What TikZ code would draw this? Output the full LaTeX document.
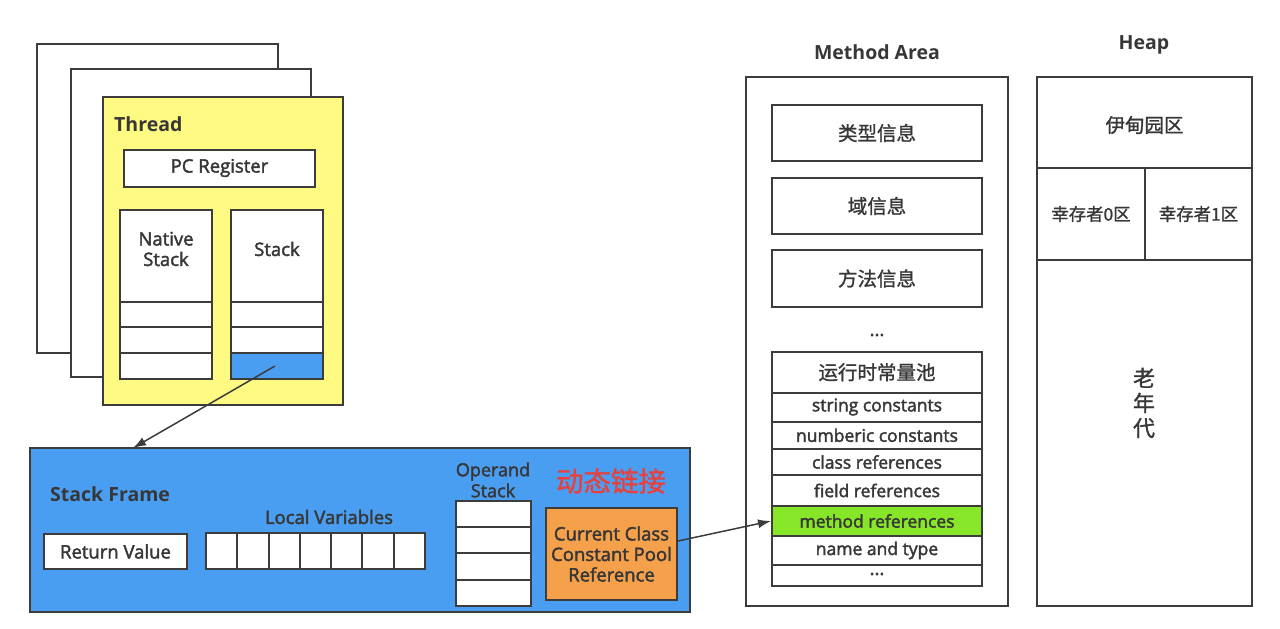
\documentclass[tikz,border=0pt]{standalone}
\usepackage{fontspec}
\setmainfont{Open Sans}
\newfontfamily\semi{Open Sans}[FakeBold=2.2]
\newfontfamily\cjk{Noto Sans CJK SC}[FakeBold=1.2]
\usetikzlibrary{arrows.meta}
\definecolor{linec}{RGB}{60,60,60}
\definecolor{txt}{RGB}{55,55,55}
\definecolor{yel}{RGB}{255,250,130}
\definecolor{blu}{RGB}{74,158,242}
\definecolor{org}{RGB}{245,160,74}
\definecolor{grn}{RGB}{135,230,40}
\definecolor{redt}{RGB}{232,64,58}
\tikzset{
  bx/.style={draw=linec, line width=2pt, fill=white, inner sep=0pt, text=txt},
  lab/.style={text=txt, inner sep=0pt, font=\fontsize{18.5}{20.5}\selectfont\semi, align=center},
  rowt/.style={text=txt, inner sep=0pt, font=\fontsize{17.5}{20}\selectfont\semi},
  ttl/.style={text=txt, inner sep=0pt, font=\fontsize{19.5}{22}\selectfont\bfseries},
  cn/.style={text=txt, inner sep=0pt, font=\fontsize{19.5}{22}\selectfont\cjk},
  cell/.style={bx, minimum width=210pt},
  arr/.style={draw=linec, line width=1.5pt, -{Latex[length=13pt,width=9pt]}}
}
\begin{document}
\begin{tikzpicture}[x=1pt,y=-1pt]
\useasboundingbox (0,0) rectangle (1280,629);
% thread pages
\node[bx, minimum width=241pt, minimum height=309pt] (p1) at (157.5,198.5) {};
\node[bx, minimum width=240pt, minimum height=308pt] (p2) at (191,223) {};
\node[bx, fill=yel, minimum width=240pt, minimum height=308pt] (th) at (223,251) {};
\node[ttl, anchor=west] (thl) at (114,124) {Thread};
\node[bx, minimum width=191pt, minimum height=37pt, lab] (pc) at (219.5,168) {PC Register};
% native stack
\node[bx, minimum width=92pt, minimum height=92pt] (ns) at (166,256) {};
\node[lab] (nsl) at (166,249) {Native\\Stack};
\node[bx, minimum width=92pt, minimum height=25pt] (n1) at (166,314.5) {};
\node[bx, minimum width=92pt, minimum height=26pt] (n2) at (166,340) {};
\node[bx, minimum width=92pt, minimum height=26pt] (n3) at (166,366) {};
% stack
\node[bx, minimum width=92pt, minimum height=92pt] (st) at (277,256) {};
\node[lab] (stl) at (277,249) {Stack};
\node[bx, minimum width=92pt, minimum height=25pt] (s1) at (277,314.5) {};
\node[bx, minimum width=92pt, minimum height=26pt] (s2) at (277,340) {};
\node[bx, fill=blu, minimum width=92pt, minimum height=26pt] (s3) at (277,366) {};
% stack frame
\node[bx, fill=blu, minimum width=660pt, minimum height=164pt] (sf) at (360,530) {};
\coordinate (sfin) at (133,448);
\node[ttl, anchor=west] (sfl) at (50,494) {Stack Frame};
\node[bx, lab, minimum width=143pt, minimum height=35pt] (rv) at (115.5,551.5) {Return Value};
\node[lab] (lvl) at (329,517) {Local Variables};
\foreach \i in {0,...,6} {
  \node[bx, minimum width=31.3pt, minimum height=36pt] (lv\i) at ({206+31.29*(\i+0.5)},551) {};
}
\node[lab, font=\fontsize{18}{21}\selectfont\semi] (osl) at (493,480) {Operand\\Stack};
\node[bx, minimum width=75pt, minimum height=26.25pt] (o1) at (493.5,514.1) {};
\node[bx, minimum width=75pt, minimum height=26.25pt] (o2) at (493.5,540.4) {};
\node[bx, minimum width=75pt, minimum height=26.25pt] (o3) at (493.5,566.6) {};
\node[bx, minimum width=75pt, minimum height=26.25pt] (o4) at (493.5,592.9) {};
\node[text=redt, inner sep=0pt, font=\fontsize{27.5}{30}\selectfont\cjk] (dl) at (611,481) {动态链接};
\node[bx, fill=org, lab, minimum width=131pt, minimum height=92pt] (or) at (611.5,554) {Current Class\\Constant Pool\\Reference};
% method area
\node[ttl] (mal) at (877,52) {Method Area};
\node[bx, minimum width=262pt, minimum height=529pt] (ma) at (877,341.5) {};
\node[bx, cn, minimum width=210pt, minimum height=56pt] (t1) at (877,133) {类型信息};
\node[bx, cn, minimum width=210pt, minimum height=56pt] (t2) at (877,206) {域信息};
\node[bx, cn, minimum width=210pt, minimum height=57pt] (t3) at (877,278.5) {方法信息};
\node[lab] (dots1) at (877,335) {...};
\node[cell, cn, minimum height=40.5pt] (r0) at (877,372.25) {运行时常量池};
\node[cell, rowt, minimum height=29pt] (r1) at (877,407) {string constants};
\node[cell, rowt, minimum height=27.5pt] (r2) at (877,435.25) {numberic constants};
\node[cell, rowt, minimum height=26pt] (r3) at (877,462) {class references};
\node[cell, rowt, minimum height=31pt] (r4) at (877,490.5) {field references};
\node[cell, rowt, fill=grn, minimum height=30pt] (r5) at (877,521) {method references};
\node[cell, rowt, minimum height=29pt] (r6) at (877,550.5) {name and type};
\node[cell, minimum height=21pt] (r7) at (877,575.5) {};
\node[lab] (dots2) at (877,574) {...};
% heap
\node[ttl] (hl) at (1144,45) {Heap};
\node[bx, minimum width=215pt, minimum height=529pt] (hp) at (1144.5,341.5) {};
\node[bx, minimum width=215pt, minimum height=91pt] (eden) at (1144.5,122.5) {};
\node[cn] (edenl) at (1144.5,125) {伊甸园区};
\node[bx, cn, font=\fontsize{17.4}{20}\selectfont\cjk, minimum width=108pt, minimum height=92pt] (s0) at (1091,214) {幸存者0区};
\node[bx, cn, font=\fontsize{17.4}{20}\selectfont\cjk, minimum width=107pt, minimum height=92pt] (sv1) at (1198.5,214) {幸存者1区};
\node[bx, minimum width=215pt, minimum height=346pt] (old) at (1144.5,433) {};
\node[cn, font=\fontsize{22}{25}\selectfont\cjk, align=center] (oldl) at (1144,403) {老\\年\\代};
% arrows
\draw[arr] ([xshift=-2pt]s3.center) -- (sfin);
\draw[arr] ([yshift=13pt]or.east) -- (r5.west);
\end{tikzpicture}
\end{document}
